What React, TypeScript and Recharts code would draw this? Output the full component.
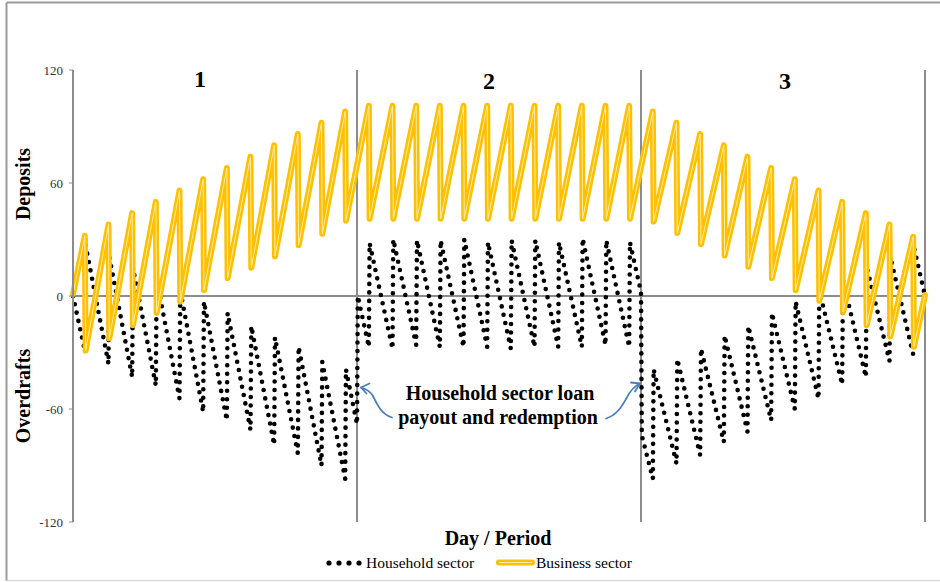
import React from "react";
import { LineChart, Line, XAxis, YAxis, ReferenceLine } from "recharts";

// ---- Structure ----
const PERIOD_DAYS = 360;
const FIRST_TOOTH_DAY = 15;
const TOOTH_DAYS = 30;
const periodStarts = [0, 360, 720];
const yTicks = [-120, -60, 0, 60, 120];
const periodLabels = ["1", "2", "3"];

// ---- Business sector (deposits) ----
const businessStart = 1;
const businessEnd = 0.5;
const businessPeaksP1 = [32, 38, 44, 50, 56, 62, 68, 74, 80, 86, 92, 98];
const businessTroughsP1 = [-29, -22.5, -15.5, -9, -3, 3, 9.5, 15, 21, 27, 33, 40];
const businessPeaksP2 = [101, 101, 101, 101, 101, 101, 101, 101, 101, 101, 101, 101];
const businessTroughsP2 = [41, 41, 41, 41, 41, 41, 41, 41, 41, 41, 41, 41];
const businessPeaksP3 = [98, 92, 86, 80, 74, 68, 62, 56, 50, 44, 38, 31.5];
const businessTroughsP3 = [39.5, 33.5, 27.5, 21.5, 15.5, 9.5, 3, -2.5, -8.5, -15.5, -21.5, -27];

// ---- Household sector ----
const householdStart = 0;
const householdEnd = 0;
const householdTroughsP1 = [-29, -36, -43, -47.5, -54.5, -61.5, -66, -71, -79, -83.5, -90, -97];
const householdPeaksP1 = [27, 21, 15, 9, 3, -3, -9, -16, -22, -27, -35, -39];
const householdTroughsP2 = [-27, -28, -26, -27, -27, -27, -28, -27, -27, -27, -26, -27];
const householdPeaksP2 = [28, 30, 29.5, 29.5, 30, 28.5, 29.5, 29.5, 28.5, 30.5, 29.5, 28.5];
const householdTroughsP3 = [-97, -89, -84.5, -77.5, -72, -66, -60, -54.5, -47, -43, -34.5, -31];
const householdPeaksP3 = [-39, -33.5, -28, -21, -16, -9, -3, 3, 8.5, 15.5, 21, 26];
// loan payout (end of period 1) and redemption (end of period 2): value before, value after
const loanPayout = [-68, 0];
const loanRedemption = [2, -74];

// ---- Build table ----
type Row = { day: number; business?: number; household?: number };
const rows: Record<number, Row> = {};
const put = (day: number, key: "business" | "household", v: number) => {
  if (!rows[day]) rows[day] = { day };
  rows[day][key] = v;
};

put(0, "business", businessStart);
put(0, "household", householdStart);
const bPeaks = [businessPeaksP1, businessPeaksP2, businessPeaksP3];
const bTroughs = [businessTroughsP1, businessTroughsP2, businessTroughsP3];
const hPeaks = [householdPeaksP1, householdPeaksP2, householdPeaksP3];
const hTroughs = [householdTroughsP1, householdTroughsP2, householdTroughsP3];
periodStarts.forEach((start, p) => {
  bPeaks[p].forEach((v, k) => {
    const d = start + FIRST_TOOTH_DAY + k * TOOTH_DAYS;
    put(d, "business", v);
    put(d + 1, "business", bTroughs[p][k]);
    put(d, "household", hTroughs[p][k]);
    put(d + 1, "household", hPeaks[p][k]);
  });
});
put(PERIOD_DAYS, "household", loanPayout[0]);
put(PERIOD_DAYS + 1, "household", loanPayout[1]);
put(2 * PERIOD_DAYS, "household", loanRedemption[0]);
put(2 * PERIOD_DAYS + 1, "household", loanRedemption[1]);
put(3 * PERIOD_DAYS, "business", businessEnd);
put(3 * PERIOD_DAYS, "household", householdEnd);

const data = Object.values(rows).sort((a, b) => a.day - b.day);

const SERIF = "'Liberation Serif', 'Times New Roman', serif";
const GRAY = "#8c8c8c";
const GOLD = "#FFC000";
const GOLD_CENTER = "#FFEBA6";
const BLUE = "#4A7EBB";

export default function App() {
  return (
    <div style={{ position: "absolute", left: 0, top: 0, width: 940, height: 582, background: "#fff" }}>
      <LineChart
        width={940}
        height={582}
        data={data}
        margin={{ top: 70, right: 15, bottom: 60, left: 0 }}
      >
        <XAxis dataKey="day" type="number" domain={[0, 1080]} hide />
        <YAxis
          type="number"
          domain={[-120, 120]}
          ticks={yTicks}
          width={73}
          interval={0}
          axisLine={{ stroke: GRAY, strokeWidth: 2 }}
          tickLine={{ stroke: GRAY, strokeWidth: 1 }}
          tickSize={4}
          tickMargin={6}
          tick={{ fontFamily: SERIF, fontSize: 13, fill: "#333" }}
        />
        <ReferenceLine y={0} stroke={GRAY} strokeWidth={2} />
        {periodStarts.map((s) => (
          <ReferenceLine key={s} x={s + PERIOD_DAYS} stroke={GRAY} strokeWidth={2} />
        ))}
        <Line
          dataKey="household"
          type="linear"
          stroke="#000"
          strokeWidth={4.6}
          strokeDasharray="0 8.5"
          strokeLinecap="round"
          dot={false}
          connectNulls
          isAnimationActive={false}
        />
        <Line
          dataKey="business"
          type="linear"
          stroke={GOLD}
          strokeWidth={6}
          strokeLinejoin="round"
          strokeLinecap="round"
          dot={false}
          connectNulls
          isAnimationActive={false}
        />
        <Line
          dataKey="business"
          type="linear"
          stroke={GOLD_CENTER}
          strokeWidth={1}
          strokeLinejoin="round"
          dot={false}
          connectNulls
          legendType="none"
          isAnimationActive={false}
        />
      </LineChart>
      <svg
        width={940}
        height={582}
        style={{ position: "absolute", left: 0, top: 0, pointerEvents: "none" }}
      >
        {/* chart border */}
        <line x1={6.5} y1={2.5} x2={940} y2={2.5} stroke="#9a9a9a" strokeWidth={2} />
        <line x1={6.5} y1={2.5} x2={6.5} y2={581} stroke="#9a9a9a" strokeWidth={2} />
        <line x1={6.5} y1={580.5} x2={940} y2={580.5} stroke="#d9d9d9" strokeWidth={1.5} />

        {/* period labels */}
        <g fontFamily={SERIF} fontWeight="bold" fontSize={24} fill="#000" textAnchor="middle">
          <text x={200} y={87}>{periodLabels[0]}</text>
          <text x={489} y={89}>{periodLabels[1]}</text>
          <text x={785} y={89}>{periodLabels[2]}</text>
        </g>

        {/* y axis titles */}
        <g fontFamily={SERIF} fontWeight="bold" fontSize={20} fill="#000" textAnchor="middle">
          <text transform="translate(30,184) rotate(-90)">Deposits</text>
          <text transform="translate(30,396) rotate(-90)">Overdrafts</text>
        </g>

        {/* x axis title */}
        <text x={498} y={545} textAnchor="middle" fontFamily={SERIF} fontWeight="bold" fontSize={20}>
          Day / Period
        </text>

        {/* annotation */}
        <g fontFamily={SERIF} fontWeight="bold" fontSize={20} fill="#000" textAnchor="middle">
          <text x={500} y={400}>Household sector loan</text>
          <text x={498} y={424}>payout and redemption</text>
        </g>
        <g fill="none" stroke={BLUE} strokeWidth={1.8} strokeLinecap="round" strokeLinejoin="round">
          <path d="M 392 417.5 C 381 414, 377 404, 373 396 C 370 391, 366 389, 361 387.5" />
          <polyline points="369.5,383.5 361,387.5 366.5,393.5" />
          <path d="M 606 418.5 C 617 415, 622 406, 626 399 C 630 391, 634 386, 640 383.5" />
          <polyline points="631,382.5 640,383.5 635,391.5" />
        </g>

        {/* legend */}
        <g>
          {[329, 339, 349, 359].map((cx) => (
            <circle key={cx} cx={cx} cy={563} r={2.6} fill="#000" />
          ))}
          <text x={366} y={568} fontFamily={SERIF} fontSize={15.5} fill="#000">Household sector</text>
          <line x1={499} y1={562.5} x2={532} y2={562.5} stroke={GOLD} strokeWidth={6} strokeLinecap="round" />
          <line x1={499} y1={562.5} x2={532} y2={562.5} stroke={GOLD_CENTER} strokeWidth={1} />
          <text x={536} y={568} fontFamily={SERIF} fontSize={15.5} fill="#000">Business sector</text>
        </g>
      </svg>
    </div>
  );
}
